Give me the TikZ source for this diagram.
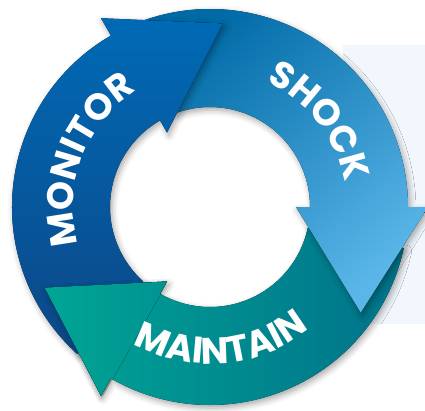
\documentclass[tikz,border=0pt]{standalone}
\usepackage{fontspec}
\setmainfont{Poppins}
\usetikzlibrary{decorations.text,shadows.blur}

\definecolor{monDark}{HTML}{0C4787}
\definecolor{monLight}{HTML}{006AB5}
\definecolor{shoDark}{HTML}{006AA6}
\definecolor{shoMid}{HTML}{078FCD}
\definecolor{shoLight}{HTML}{5AB6E8}
\definecolor{maiLeft}{HTML}{00A595}
\definecolor{maiRight}{HTML}{00728A}
\definecolor{backing}{HTML}{F1F7FC}

% ring segment with its head: start angle, head base angle, tip angle
\newcommand{\cyclearrow}[3]{(#1:198) arc[start angle=#1, end angle=#2, radius=198]
  -- (#2:218) -- (#3:184) -- (#2:86) -- (#2:100)
  arc[start angle=#2, end angle=#1, radius=100] -- cycle}

\begin{document}
\begin{tikzpicture}[x=1pt, y=1pt,
  shade/.style={blur shadow={shadow xshift=2pt, shadow yshift=-3pt,
      shadow blur radius=6pt, shadow opacity=35}},
  monitor/.style={shade, top color=monLight, bottom color=monDark},
  shock/.style={shade, top color=shoDark, middle color=shoMid,
      bottom color=shoLight, shading angle=40},
  maintain/.style={shade, left color=maiLeft, right color=maiRight},
  word/.style={decorate, decoration={text along path, text color=white,
      text align=center, text={|\bfseries\fontsize{37}{37}\selectfont|#1}}}]

\useasboundingbox (-210,-203) rectangle (215,207);
\fill[backing] (133,162) rectangle (215,-117);

\fill[maintain] \cyclearrow{-12}{-120}{-154};
\fill[shock] \cyclearrow{110}{0}{-35};
\fill[monitor] \cyclearrow{228}{120}{86};
% maintain head lies over the start of monitor
\begin{scope}
  \clip (0,0) -- (194:240) arc[start angle=194, end angle=240.5, radius=240] -- cycle;
  \fill[maintain] \cyclearrow{-12}{-120}{-154};
\end{scope}

\path[word=MONITOR] (200:137) arc[start angle=200, end angle=118, radius=137];
\path[word=SHOCK] (80:137) arc[start angle=80, end angle=-4, radius=137];
\path[word=MAINTAIN] (231:157) arc[start angle=231, end angle=319, radius=157];
\end{tikzpicture}
\end{document}
